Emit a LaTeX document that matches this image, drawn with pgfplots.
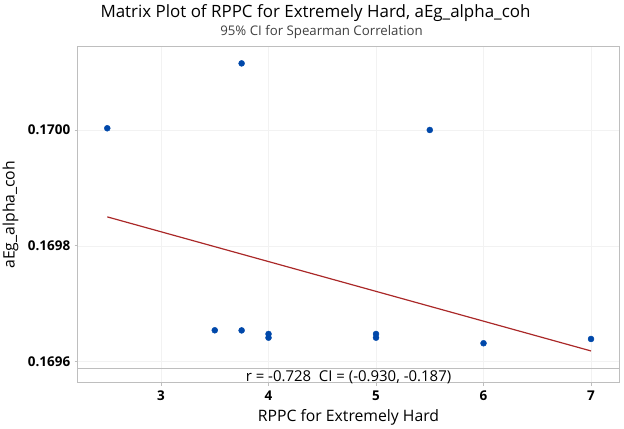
\documentclass[border=0pt]{standalone}
\usepackage{pgfplots}
\pgfplotsset{compat=1.18}
\usepackage{fontspec}
\setmainfont{Open Sans}
\definecolor{ptblue}{RGB}{0,72,170}
\definecolor{fitred}{RGB}{170,40,40}
\definecolor{axgray}{RGB}{190,190,190}
\definecolor{gridgray}{RGB}{242,242,242}
\begin{document}
\begin{tikzpicture}[x=1bp,y=1bp]
\path[use as bounding box] (-77.7bp,-46.3bp) rectangle (546.3bp,382.7bp);
\begin{axis}[
  at={(0,0)}, anchor=south west,
  scale only axis, width=541.6bp, height=336bp,
  xmin=2.225, xmax=7.263,
  ymin=0.1695637, ymax=0.1701438,
  xtick={3,4,5,6,7},
  ytick={0.1696,0.1698,0.1700},
  yticklabels={0.1696,0.1698,0.1700},
  xticklabels={3,4,5,6,7},
  tick align=outside, tick pos=left,
  major tick length=3bp,
  tick style={axgray, line width=0.8pt},
  axis line style={axgray, line width=1pt},
  grid=major, major grid style={gridgray, line width=0.6pt},
  ticklabel style={font=\fontsize{13.5}{14}\selectfont\bfseries, text=black},
  xticklabel style={yshift=-2bp},
  yticklabel style={xshift=-1bp},
  xlabel={RPPC for Extremely Hard},
  ylabel={aEg\_alpha\_coh},
  label style={font=\fontsize{15.8}{17}\selectfont},
  xlabel style={at={(axis description cs:0.5,0)}, anchor=base, yshift=-39bp},
  ylabel style={at={(axis description cs:-0.11632,0.5)}, anchor=base},
  clip=false,
]
\addplot[only marks, mark=*, mark size=3bp, mark options={ptblue, fill=ptblue}] coordinates {
  (2.5,0.170003) (3.75,0.170115) (5.5,0.170000)
  (3.5,0.1696542) (3.75,0.169654)
  (4,0.1696478) (4,0.1696414)
  (5,0.1696478) (5,0.1696414)
  (6,0.1696318) (7,0.1696392)
};
\addplot[fitred, line width=1.2pt] coordinates {(2.5,0.169850) (7,0.1696185)};
\draw[axgray, line width=1pt] (axis cs:2.225,0.1695886) -- (axis cs:7.263,0.1695886);
\node[font=\fontsize{15}{16}\selectfont, anchor=base, yshift=1.3bp] at (axis cs:4.744,0.1695637) {r = -0.728\ \ CI = (-0.930, -0.187)};
\end{axis}
\node[font=\fontsize{17}{18}\selectfont, anchor=base] at (237.8bp,365.4bp) {Matrix Plot of RPPC for Extremely Hard, aEg\_alpha\_coh};
\node[font=\fontsize{13.3}{14}\selectfont, text=black!75, anchor=base] at (243.8bp,347.2bp) {95\% CI for Spearman Correlation};
\end{tikzpicture}
\end{document}
